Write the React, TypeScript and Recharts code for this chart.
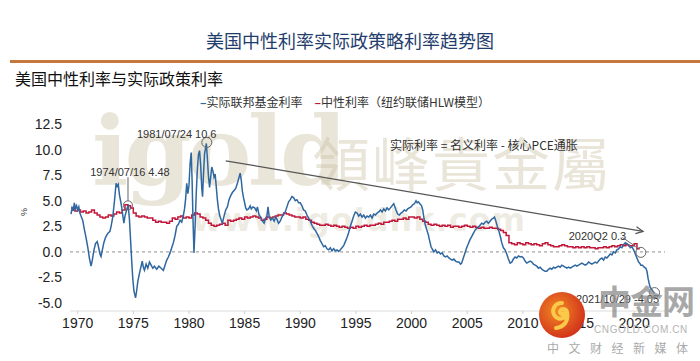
import React from 'react'
import { LineChart, Line, XAxis, YAxis, ReferenceLine, ReferenceDot } from 'recharts'

// [year, %] 实际联邦基金利率
const realFedFunds: [number, number][] = [
  [1969.4, 3.7], [1969.5, 4.3], [1969.6, 4.0], [1969.7, 4.8], [1969.8, 4.2], [1969.9, 4.5],
  [1970.0, 4.1], [1970.1, 4.4], [1970.2, 3.8], [1970.3, 3.5], [1970.45, 3.1], [1970.6, 2.2],
  [1970.75, 1.4], [1970.9, 0.5], [1971.05, -0.6], [1971.2, -1.4], [1971.3, -0.9], [1971.45, 0.1],
  [1971.6, 0.8], [1971.75, 1.0], [1971.85, 0.6], [1972.0, -0.2], [1972.1, -0.45], [1972.2, 0.1],
  [1972.35, 0.9], [1972.5, 1.4], [1972.7, 1.8], [1972.9, 2.0], [1973.0, 2.5], [1973.15, 3.4],
  [1973.3, 4.9], [1973.45, 6.7], [1973.55, 6.4], [1973.65, 6.6], [1973.75, 5.6], [1973.85, 5.0],
  [1973.95, 4.4], [1974.05, 3.6], [1974.15, 2.8], [1974.25, 3.5], [1974.35, 3.9], [1974.45, 4.3],
  [1974.54, 4.48], [1974.65, 3.2], [1974.75, 1.2], [1974.85, -0.8], [1974.95, -2.6], [1975.05, -3.8],
  [1975.2, -4.5], [1975.3, -3.8], [1975.4, -2.9], [1975.55, -2.1], [1975.7, -1.4], [1975.8, -0.9],
  [1975.9, -1.5], [1976.0, -1.8], [1976.15, -1.2], [1976.3, -1.6], [1976.45, -1.0], [1976.6, -1.3],
  [1976.75, -1.6], [1976.9, -1.4], [1977.1, -1.7], [1977.3, -1.4], [1977.5, -1.6], [1977.7, -1.8],
  [1977.85, -1.3], [1978.0, -0.8], [1978.15, -0.5], [1978.3, -0.1], [1978.45, 0.4], [1978.6, 0.9],
  [1978.75, 1.6], [1978.9, 2.5], [1979.05, 2.7], [1979.2, 3.1], [1979.35, 2.9], [1979.5, 3.6],
  [1979.6, 4.2], [1979.7, 5.2], [1979.8, 6.7], [1979.9, 5.7], [1980.0, 6.5], [1980.1, 8.6],
  [1980.2, 9.7], [1980.28, 7.0], [1980.36, 3.2], [1980.45, -0.1], [1980.55, 2.5], [1980.65, 5.6],
  [1980.75, 8.0], [1980.85, 9.5], [1980.95, 9.9], [1981.05, 8.5], [1981.15, 6.2], [1981.22, 5.4],
  [1981.3, 7.5], [1981.4, 9.6], [1981.5, 10.2], [1981.56, 10.6], [1981.65, 9.2], [1981.75, 7.4],
  [1981.85, 6.3], [1981.95, 7.3], [1982.05, 8.3], [1982.15, 7.9], [1982.25, 7.3], [1982.35, 7.6],
  [1982.45, 6.4], [1982.55, 5.1], [1982.65, 4.2], [1982.75, 3.6], [1982.9, 3.1], [1983.0, 2.8],
  [1983.15, 3.5], [1983.3, 4.1], [1983.45, 4.4], [1983.6, 5.1], [1983.75, 5.5], [1983.9, 5.8],
  [1984.05, 6.0], [1984.2, 6.2], [1984.35, 6.7], [1984.5, 7.3], [1984.6, 7.7], [1984.7, 7.0],
  [1984.8, 5.9], [1984.9, 5.3], [1985.0, 4.8], [1985.1, 4.3], [1985.2, 4.1], [1985.35, 4.2],
  [1985.5, 4.5], [1985.6, 4.2], [1985.75, 4.4], [1985.9, 4.3], [1986.05, 4.0], [1986.15, 4.4],
  [1986.3, 3.6], [1986.45, 3.4], [1986.6, 3.0], [1986.75, 2.8], [1986.9, 3.3], [1987.0, 3.5],
  [1987.1, 4.4], [1987.2, 3.5], [1987.35, 3.1], [1987.5, 3.3], [1987.65, 3.0], [1987.8, 3.4],
  [1987.9, 3.2], [1988.05, 2.8], [1988.2, 3.0], [1988.35, 3.4], [1988.5, 3.7], [1988.65, 3.9],
  [1988.8, 4.4], [1988.95, 4.9], [1989.1, 5.1], [1989.25, 5.4], [1989.4, 5.3], [1989.55, 5.0],
  [1989.7, 5.1], [1989.85, 4.8], [1990.0, 4.8], [1990.15, 4.5], [1990.3, 4.1], [1990.45, 4.0],
  [1990.6, 3.6], [1990.75, 3.3], [1990.9, 3.0], [1991.05, 2.6], [1991.2, 2.3], [1991.35, 2.1],
  [1991.5, 1.8], [1991.65, 1.5], [1991.8, 1.1], [1991.95, 0.8], [1992.1, 0.5], [1992.25, 0.6],
  [1992.4, 0.3], [1992.55, 0.2], [1992.7, 0.4], [1992.85, 0.1], [1993.0, 0.3], [1993.15, 0.1],
  [1993.3, 0.2], [1993.45, 0.05], [1993.6, 0.2], [1993.75, 0.4], [1993.9, 0.6], [1994.05, 1.0],
  [1994.2, 1.4], [1994.35, 1.9], [1994.5, 2.5], [1994.65, 3.0], [1994.8, 3.5], [1994.95, 3.9],
  [1995.1, 3.8], [1995.25, 3.5], [1995.4, 3.7], [1995.55, 3.4], [1995.7, 3.6], [1995.85, 3.3],
  [1996.0, 3.5], [1996.15, 3.4], [1996.3, 3.6], [1996.45, 3.3], [1996.6, 3.7], [1996.75, 3.6],
  [1996.9, 3.8], [1997.05, 3.9], [1997.2, 4.1], [1997.35, 3.9], [1997.5, 4.2], [1997.65, 4.0],
  [1997.8, 4.3], [1997.95, 4.1], [1998.1, 4.3], [1998.25, 4.5], [1998.4, 4.7], [1998.5, 4.4],
  [1998.6, 4.1], [1998.75, 3.7], [1998.9, 3.6], [1999.05, 3.8], [1999.2, 3.9], [1999.35, 4.1],
  [1999.5, 4.0], [1999.65, 4.2], [1999.8, 4.3], [1999.95, 4.4], [2000.1, 4.6], [2000.25, 4.7],
  [2000.4, 5.0], [2000.5, 4.8], [2000.6, 4.9], [2000.75, 4.7], [2000.9, 4.5], [2001.0, 4.1],
  [2001.1, 3.4], [2001.2, 2.8], [2001.35, 2.2], [2001.5, 1.7], [2001.6, 1.2], [2001.75, 0.5],
  [2001.9, 0.2], [2002.0, 0.0], [2002.15, 0.2], [2002.3, -0.1], [2002.45, 0.0], [2002.6, -0.2],
  [2002.75, -0.1], [2002.9, -0.4], [2003.05, -0.5], [2003.2, -0.4], [2003.35, -0.6], [2003.5, -0.7],
  [2003.65, -0.8], [2003.8, -0.7], [2003.95, -0.9], [2004.1, -1.0], [2004.25, -1.0], [2004.4, -1.2],
  [2004.5, -1.1], [2004.65, -0.6], [2004.8, -0.1], [2004.95, 0.4], [2005.1, 0.8], [2005.25, 1.2],
  [2005.4, 1.5], [2005.55, 1.8], [2005.7, 2.1], [2005.85, 2.3], [2006.0, 2.4], [2006.15, 2.6],
  [2006.3, 2.8], [2006.45, 2.7], [2006.6, 2.9], [2006.75, 3.0], [2006.9, 2.8], [2007.05, 3.0],
  [2007.2, 3.2], [2007.35, 3.3], [2007.45, 3.4], [2007.55, 3.1], [2007.7, 2.5], [2007.85, 2.0],
  [2008.0, 1.4], [2008.1, 0.9], [2008.25, 0.4], [2008.4, 0.2], [2008.55, -0.2], [2008.7, -0.7],
  [2008.85, -1.1], [2009.0, -1.0], [2009.15, -0.7], [2009.3, -0.5], [2009.45, -0.6], [2009.6, -0.4],
  [2009.75, -0.5], [2009.9, -0.45], [2010.05, -0.6], [2010.2, -0.9], [2010.35, -1.1], [2010.5, -1.0],
  [2010.65, -0.9], [2010.8, -1.0], [2010.95, -1.2], [2011.1, -1.3], [2011.25, -1.4], [2011.4, -1.6],
  [2011.55, -1.5], [2011.7, -1.7], [2011.85, -1.8], [2012.0, -1.9], [2012.15, -1.9], [2012.3, -1.7],
  [2012.45, -1.6], [2012.6, -1.7], [2012.75, -1.5], [2012.9, -1.6], [2013.05, -1.5], [2013.2, -1.4],
  [2013.35, -1.5], [2013.5, -1.3], [2013.65, -1.4], [2013.8, -1.5], [2013.95, -1.6], [2014.1, -1.5],
  [2014.25, -1.6], [2014.4, -1.5], [2014.55, -1.4], [2014.7, -1.3], [2014.85, -1.4], [2015.0, -1.3],
  [2015.15, -1.2], [2015.3, -1.1], [2015.45, -1.2], [2015.6, -1.3], [2015.75, -1.2], [2015.9, -1.0],
  [2016.05, -1.1], [2016.2, -1.2], [2016.35, -1.1], [2016.5, -1.0], [2016.65, -1.1], [2016.8, -0.9],
  [2016.95, -0.7], [2017.1, -0.6], [2017.25, -0.8], [2017.4, -0.5], [2017.55, -0.6], [2017.7, -0.4],
  [2017.85, -0.2], [2018.0, -0.3], [2018.15, 0.0], [2018.3, -0.1], [2018.45, 0.2], [2018.6, 0.3],
  [2018.75, 0.5], [2018.9, 0.4], [2019.05, 0.7], [2019.2, 0.9], [2019.35, 0.8], [2019.5, 0.7],
  [2019.65, 0.4], [2019.8, 0.5], [2019.95, 0.2], [2020.1, -0.2], [2020.25, -0.6], [2020.4, -1.0],
  [2020.5, -1.1], [2020.6, -1.3], [2020.75, -1.3], [2020.9, -1.5], [2021.05, -1.6], [2021.15, -1.9],
  [2021.25, -2.6], [2021.35, -3.1], [2021.45, -3.5], [2021.55, -3.6], [2021.65, -3.8], [2021.83, -4.05],
]

// [year, %] 中性利率（纽约联储HLW模型），季度
const neutralRate: [number, number][] = [
  [1969.4, 4.3], [1969.75, 4.0], [1970.0, 4.1], [1970.25, 3.9], [1970.5, 4.0], [1970.75, 3.8],
  [1971.0, 3.9], [1971.25, 4.1], [1971.5, 3.8], [1971.75, 3.6], [1972.0, 3.4], [1972.25, 3.3],
  [1972.5, 3.4], [1972.75, 3.6], [1973.0, 3.5], [1973.25, 3.7], [1973.5, 3.9], [1973.75, 3.8],
  [1974.0, 4.1], [1974.25, 4.6], [1974.5, 4.5], [1974.75, 4.3], [1975.0, 3.8], [1975.25, 3.5],
  [1975.5, 3.4], [1975.75, 3.5], [1976.0, 3.4], [1976.25, 3.3], [1976.5, 3.3], [1976.75, 3.1],
  [1977.0, 2.9], [1977.25, 3.0], [1977.5, 2.9], [1977.75, 2.9], [1978.0, 2.8], [1978.25, 3.0],
  [1978.5, 3.3], [1978.75, 3.2], [1979.0, 3.4], [1979.25, 3.5], [1979.5, 3.3], [1979.75, 3.4],
  [1980.0, 3.3], [1980.25, 3.6], [1980.5, 3.8], [1980.75, 3.7], [1981.0, 3.4], [1981.25, 3.3],
  [1981.5, 3.1], [1981.75, 2.8], [1982.0, 2.6], [1982.25, 2.5], [1982.5, 2.6], [1982.75, 2.7],
  [1983.0, 2.8], [1983.25, 2.6], [1983.5, 3.1], [1983.75, 3.0], [1984.0, 3.1], [1984.25, 3.2],
  [1984.5, 3.3], [1984.75, 3.2], [1985.0, 3.4], [1985.25, 3.3], [1985.5, 3.4], [1985.75, 3.5],
  [1986.0, 3.4], [1986.25, 3.3], [1986.5, 3.1], [1986.75, 3.2], [1987.0, 3.4], [1987.25, 3.3],
  [1987.5, 3.4], [1987.75, 3.5], [1988.0, 3.6], [1988.25, 3.6], [1988.5, 3.8], [1988.75, 3.7],
  [1989.0, 3.6], [1989.25, 3.5], [1989.5, 3.4], [1989.75, 3.4], [1990.0, 3.3], [1990.25, 3.4],
  [1990.5, 3.2], [1990.75, 3.1], [1991.0, 2.9], [1991.25, 2.8], [1991.5, 2.7], [1991.75, 2.6],
  [1992.0, 2.6], [1992.25, 2.7], [1992.5, 2.6], [1992.75, 2.5], [1993.0, 2.6], [1993.25, 2.5],
  [1993.5, 2.4], [1993.75, 2.5], [1994.0, 2.4], [1994.25, 2.3], [1994.5, 2.4], [1994.75, 2.3],
  [1995.0, 2.5], [1995.25, 2.4], [1995.5, 2.5], [1995.75, 2.6], [1996.0, 2.5], [1996.25, 2.6],
  [1996.5, 2.6], [1996.75, 2.7], [1997.0, 2.8], [1997.25, 2.7], [1997.5, 2.9], [1997.75, 2.9],
  [1998.0, 3.0], [1998.25, 3.1], [1998.5, 3.0], [1998.75, 3.2], [1999.0, 3.2], [1999.25, 3.3],
  [1999.5, 3.2], [1999.75, 3.4], [2000.0, 3.4], [2000.25, 3.3], [2000.5, 3.4], [2000.75, 3.2],
  [2001.0, 3.0], [2001.25, 2.9], [2001.5, 2.7], [2001.75, 2.6], [2002.0, 2.7], [2002.25, 2.6],
  [2002.5, 2.5], [2002.75, 2.6], [2003.0, 2.5], [2003.25, 2.6], [2003.5, 2.4], [2003.75, 2.5],
  [2004.0, 2.5], [2004.25, 2.4], [2004.5, 2.5], [2004.75, 2.6], [2005.0, 2.5], [2005.25, 2.4],
  [2005.5, 2.5], [2005.75, 2.4], [2006.0, 2.3], [2006.25, 2.4], [2006.5, 2.3], [2006.75, 2.3],
  [2007.0, 2.4], [2007.25, 2.3], [2007.5, 2.3], [2007.75, 2.2], [2008.0, 2.1], [2008.25, 1.9],
  [2008.5, 1.6], [2008.75, 0.9], [2009.0, 0.8], [2009.25, 0.7], [2009.5, 0.9], [2009.75, 0.8],
  [2010.0, 0.7], [2010.25, 0.9], [2010.5, 0.8], [2010.75, 0.7], [2011.0, 0.8], [2011.25, 0.7],
  [2011.5, 0.6], [2011.75, 0.8], [2012.0, 0.9], [2012.25, 0.7], [2012.5, 0.6], [2012.75, 0.5],
  [2013.0, 0.5], [2013.25, 0.6], [2013.5, 0.7], [2013.75, 0.6], [2014.0, 0.5], [2014.25, 0.5],
  [2014.5, 0.4], [2014.75, 0.5], [2015.0, 0.4], [2015.25, 0.5], [2015.5, 0.4], [2015.75, 0.5],
  [2016.0, 0.4], [2016.25, 0.4], [2016.5, 0.3], [2016.75, 0.4], [2017.0, 0.4], [2017.25, 0.5],
  [2017.5, 0.4], [2017.75, 0.5], [2018.0, 0.6], [2018.25, 0.5], [2018.5, 0.6], [2018.75, 0.7],
  [2019.0, 0.6], [2019.25, 0.7], [2019.5, 0.6], [2019.75, 0.6], [2020.0, 0.8], [2020.25, 0.3],
  [2020.5, 0.3],
]

const yearTicks = [1970, 1975, 1980, 1985, 1990, 1995, 2000, 2005, 2010, 2015, 2020]
const rateTicks = [-5, -2.5, 0, 2.5, 5, 7.5, 10, 12.5]

// annotation points [year, %]
const peak1974: [number, number] = [1974.52, 4.55]
const peak1981: [number, number] = [1981.6, 10.7]
const point2020: [number, number] = [2020.6, -0.05]
const point2021: [number, number] = [2021.83, -3.98]
const trendFrom: [number, number] = [1983.3, 8.9]
const trendTo: [number, number] = [2020.8, 2.0]

const blueData = realFedFunds.map(([x, y]) => ({ x, y }))
const redData = neutralRate.map(([x, y]) => ({ x, y }))

const BLUE = '#2f67a0'
const RED = '#c1173a'
const tickFont = "'Liberation Sans Narrow', 'Liberation Sans', Arial, sans-serif"
const cjk = "'Noto Sans CJK SC', sans-serif"

const textShape = (label: string, size = 11, family = tickFont) => (p: any) => (
  <text x={p.cx} y={p.cy} textAnchor="middle" dominantBaseline="central" fontSize={size} fill="#333" fontFamily={family}>
    {label}
  </text>
)

const arrowShape = (p: any) => {
  const { x1, y1, x2, y2 } = p
  const a = Math.atan2(y2 - y1, x2 - x1)
  const h = 8
  const ax = x2 - h * Math.cos(a - 0.45), ay = y2 - h * Math.sin(a - 0.45)
  const bx = x2 - h * Math.cos(a + 0.45), by = y2 - h * Math.sin(a + 0.45)
  return (
    <g>
      <line x1={x1} y1={y1} x2={x2} y2={y2} stroke="#555" strokeWidth={1.2} />
      <polyline points={`${ax},${ay} ${x2},${y2} ${bx},${by}`} fill="none" stroke="#555" strokeWidth={1.2} />
    </g>
  )
}

const beige = 'rgba(196, 186, 156, 0.38)'

export default function App() {
  return (
    <div style={{ position: 'absolute', left: 0, top: 0, width: 700, height: 361, background: '#fff', overflow: 'hidden' }}>
      {/* title */}
      <div style={{ position: 'absolute', left: 0, width: 700, top: 28, textAlign: 'center', fontFamily: cjk, fontSize: 18, color: '#1f3d6d', lineHeight: '24px' }}>
        美国中性利率实际政策略利率趋势图
      </div>
      <div style={{ position: 'absolute', left: 10, top: 60, width: 690, height: 3, background: '#c5773d' }} />
      <div style={{ position: 'absolute', left: 15, top: 67, fontFamily: cjk, fontSize: 16, color: '#111', lineHeight: '22px' }}>
        美国中性利率与实际政策利率
      </div>

      {/* watermark */}
      <div style={{ position: 'absolute', left: 92, top: 92, fontFamily: "'DejaVu Serif', serif", fontWeight: 'bold', fontSize: 96, color: beige, lineHeight: '120px', letterSpacing: -4 }}>
        igold
      </div>
      <div style={{ position: 'absolute', left: 312, top: 126, fontFamily: "'Noto Sans CJK TC', sans-serif", fontSize: 58, color: beige, lineHeight: '70px', letterSpacing: 2 }}>
        領峰貴金屬
      </div>
      <div style={{ position: 'absolute', left: 192, top: 202, fontFamily: "'DejaVu Sans', sans-serif", fontWeight: 'bold', fontSize: 32, color: 'rgba(196, 186, 156, 0.28)', lineHeight: '36px', letterSpacing: 1 }}>
        www.igoldhk.com
      </div>

      {/* legend */}
      <div style={{ position: 'absolute', left: 0, width: 690, top: 94, textAlign: 'center', fontFamily: cjk, fontSize: 12, color: '#333', lineHeight: '16px' }}>
        <span style={{ color: BLUE, fontWeight: 'bold' }}>–</span>实际联邦基金利率
        <span style={{ color: RED, fontWeight: 'bold', marginLeft: 12 }}>–</span>中性利率（纽约联储HLW模型）
      </div>

      {/* y axis unit */}
      <div style={{ position: 'absolute', left: 20, top: 207, fontFamily: tickFont, fontSize: 9, color: '#333', transform: 'rotate(-90deg)', lineHeight: '10px' }}>
        %
      </div>

      <div style={{ position: 'absolute', left: 0, top: 0 }}>
        <LineChart width={700} height={361} margin={{ top: 124, right: 35, left: 0, bottom: 20 }}>
          <XAxis
            type="number"
            dataKey="x"
            domain={[1969.31, 2022.77]}
            ticks={yearTicks}
            interval={0}
            allowDataOverflow
            height={30}
            axisLine={{ stroke: '#dcdcdc' }}
            tickLine={{ stroke: '#cfcfcf' }}
            tickSize={3}
            tickMargin={4}
            tick={{ fill: '#222', fontSize: 14, fontFamily: tickFont }}
          />
          <YAxis
            type="number"
            domain={[-5.78, 12.5]}
            ticks={rateTicks}
            interval={0}
            allowDataOverflow
            width={70}
            axisLine={false}
            tickLine={false}
            tickFormatter={(v: number) => v.toFixed(1)}
            tick={{ fill: '#222', fontSize: 14, fontFamily: tickFont }}
          />
          <ReferenceLine y={0} stroke="#a6a6a6" strokeDasharray="3 3" strokeWidth={1.2} />
          <Line data={redData} dataKey="y" type="stepAfter" stroke={RED} strokeWidth={1.5} dot={false} isAnimationActive={false} />
          <Line data={blueData} dataKey="y" type="linear" stroke={BLUE} strokeWidth={1.5} dot={false} isAnimationActive={false} />

          <ReferenceLine segment={[{ x: trendFrom[0], y: trendFrom[1] }, { x: trendTo[0], y: trendTo[1] }]} shape={arrowShape} />
          <ReferenceLine segment={[{ x: 1974.52, y: 7.3 }, { x: 1974.52, y: 5.0 }]} stroke="#666" strokeWidth={1} />
          <ReferenceLine segment={[{ x: 2018.95, y: 1.4 }, { x: 2020.25, y: 0.45 }]} stroke="#666" strokeWidth={1} />

          <ReferenceDot x={peak1974[0]} y={peak1974[1]} r={4.5} fill="none" stroke="#666" strokeWidth={1} />
          <ReferenceDot x={peak1981[0]} y={peak1981[1]} r={5} fill="none" stroke="#666" strokeWidth={1} />
          <ReferenceDot x={point2020[0]} y={point2020[1]} r={5} fill="none" stroke="#666" strokeWidth={1} />
          <ReferenceDot x={point2021[0]} y={point2021[1]} r={5} fill="none" stroke="#666" strokeWidth={1} />

          <ReferenceDot x={1974.7} y={7.8} r={1} shape={textShape('1974/07/16 4.48')} />
          <ReferenceDot x={1978.9} y={11.5} r={1} shape={textShape('1981/07/24 10.6')} />
          <ReferenceDot x={2016.7} y={1.6} r={1} shape={textShape('2020Q2 0.3')} />
          <ReferenceDot x={2018.5} y={-4.65} r={1} shape={textShape('2021/10/29 -4.05')} />
          <ReferenceDot x={2006.5} y={10.45} r={1} shape={textShape('实际利率 = 名义利率 - 核心PCE通胀', 12, cjk)} />
        </LineChart>
      </div>

      {/* cngold logo */}
      <svg style={{ position: 'absolute', left: 538, top: 291 }} width={48} height={48}>
        <defs>
          <radialGradient id="lg" cx="40%" cy="40%" r="60%">
            <stop offset="0%" stopColor="#f28a24" />
            <stop offset="100%" stopColor="#d3361b" />
          </radialGradient>
        </defs>
        <circle cx={24} cy={24} r={23} fill="url(#lg)" />
        <path d="M24 12 C16 12 13 20 17 25 C21 30 30 27 29 21 C28 17 22 17 22 21 C22 23 25 24 26 22 M29 21 C31 30 26 36 18 37"
          fill="none" stroke="#fbc94a" strokeWidth={4} strokeLinecap="round" />
      </svg>
      <div style={{ position: 'absolute', left: 598, top: 280, fontFamily: cjk, fontWeight: 'bold', fontSize: 33, color: 'rgba(140,140,140,0.75)', lineHeight: '40px', letterSpacing: -1 }}>
        中金网
      </div>
      <div style={{ position: 'absolute', left: 594, top: 324, fontFamily: "'Liberation Sans', Arial, sans-serif", fontSize: 10, color: '#b4b4b4', lineHeight: '12px', letterSpacing: 0.6 }}>
        CNGOLD.COM.CN
      </div>
      <div style={{ position: 'absolute', left: 547, top: 340, fontFamily: cjk, fontSize: 12, color: '#aaa', lineHeight: '16px', letterSpacing: 9.5 }}>
        中文财经新媒体
      </div>
    </div>
  )
}
